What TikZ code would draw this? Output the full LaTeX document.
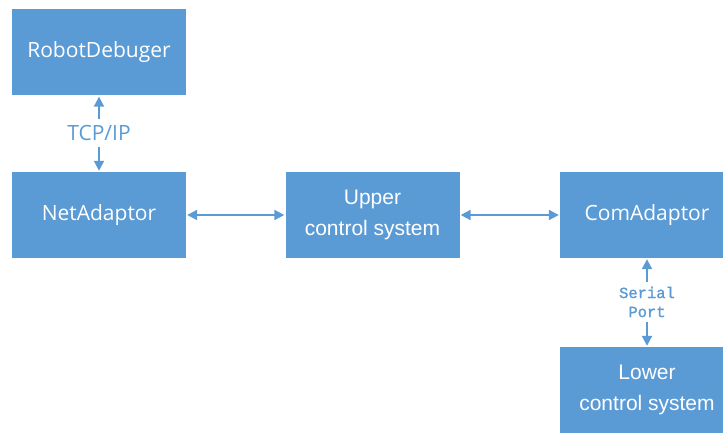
\documentclass[tikz,border=0pt]{standalone}
\usepackage{fontspec}
\setmainfont{Open Sans}
\newfontfamily\thinsans{Liberation Sans}
\newfontfamily\monofnt[FakeBold=1.5]{Liberation Mono}
\usetikzlibrary{arrows.meta}
\definecolor{boxblue}{HTML}{5B9BD5}
\definecolor{linkblue}{HTML}{5B9BD5}
\tikzset{
  blockbox/.style={fill=boxblue, draw=none, minimum width=174pt, minimum height=86pt,
    inner sep=0pt, text=white, align=center},
  plainfont/.style={font=\fontsize{21}{26}\selectfont},
  thinfont/.style={font=\thinsans\fontsize{21}{31}\selectfont},
  link/.style={draw=linkblue, line width=2pt, {Triangle[length=10pt,width=10pt]}-{Triangle[length=10pt,width=10pt]}},
  halflink/.style={draw=linkblue, line width=2pt, -{Triangle[length=10pt,width=10pt]}},
  tcplabel/.style={text=linkblue, inner sep=0pt, minimum height=28pt, font=\fontsize{21}{26}\selectfont},
  seriallabel/.style={text=linkblue, inner sep=0pt, minimum height=40pt, align=center, font=\monofnt\fontsize{15.5}{19}\selectfont}
}
\begin{document}
\begin{tikzpicture}[x=1pt,y=-1pt]
\useasboundingbox (0,0) rectangle (723,435);
\clip (0,0) rectangle (723,435);
\node[blockbox, plainfont] (robot) at (99,52.5) {RobotDebuger};
\node[blockbox, plainfont] (net) at (99,215) {NetAdaptor};
\node[blockbox, thinfont] (upper) at (372.5,215) {Upper\\control system};
\node[blockbox, plainfont] (com) at (647,215) {ComAdaptor};
\node[blockbox, thinfont] (lower) at (647,390) {Lower\\control system};
\node[tcplabel] (tcp) at (99,133) {TCP/IP};
\node[seriallabel] (serial) at (647,302) {Serial\\Port};
\draw[halflink] (tcp.north) -- ([yshift=-1pt]robot.south);
\draw[halflink] (tcp.south) -- ([yshift=1pt]net.north);
\draw[halflink] (serial.north) -- ([yshift=-1pt]com.south);
\draw[halflink] (serial.south) -- ([yshift=1pt]lower.north);
\draw[link] ([xshift=1pt]net.east) -- ([xshift=-1pt]upper.west);
\draw[link] ([xshift=1pt]upper.east) -- ([xshift=-1pt]com.west);
\end{tikzpicture}
\end{document}
